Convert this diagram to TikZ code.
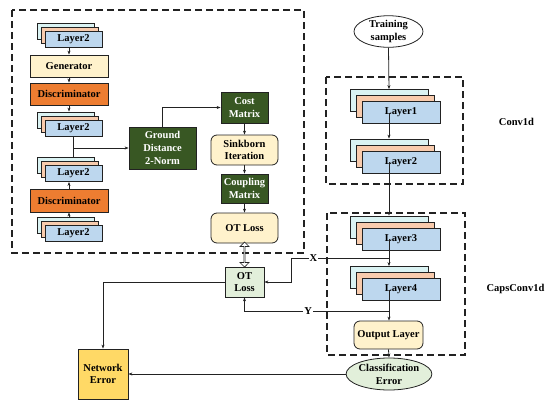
\documentclass[tikz,border=0pt]{standalone}
\usepackage{fontspec}
\setmainfont{Liberation Serif}
\usetikzlibrary{arrows.meta,shapes.geometric,shapes.arrows}
\definecolor{lcyan}{HTML}{DAF3F3}
\definecolor{lsalmon}{HTML}{F8CBAD}
\definecolor{lblue}{HTML}{BDD7EE}
\definecolor{cream}{HTML}{FFF2CC}
\definecolor{orng}{HTML}{ED7D31}
\definecolor{dgreen}{HTML}{385723}
\definecolor{lgreen}{HTML}{E2EFDA}
\definecolor{gold}{HTML}{FFD966}
\definecolor{ink}{HTML}{222222}
\newcommand\mkstack[6]{%
  \node[#5, fill=lcyan] (#1c) at ({#2-2*#4},{#3-2*#4}) {};
  \node[#5, fill=lsalmon] (#1s) at ({#2-#4},{#3-#4}) {};
  \node[#5, fill=lblue] (#1b) at (#2,#3) {#6};}
\begin{document}
\begin{tikzpicture}[x=1pt,y=-1pt,
  font=\fontsize{10.5}{12.8}\selectfont\bfseries,
  box/.style={draw=ink, line width=0.8pt, inner sep=1pt, align=center},
  lyrS/.style={box, minimum width=57pt, minimum height=16pt},
  lyrL/.style={box, minimum width=78pt, minimum height=22pt},
  wide/.style={box, minimum width=78pt, minimum height=22pt},
  green/.style={box, fill=dgreen, text=white},
  rbox/.style={box, rounded corners=6pt, fill=cream},
  ell/.style={ellipse, draw=ink, line width=0.8pt, inner sep=0pt, align=center},
  dbox/.style={draw=ink, line width=1.1pt, dash pattern=on 7pt off 4pt},
  arr/.style={draw=ink, line width=0.8pt, -{Stealth[length=4pt,width=3pt]}},
  ln/.style={draw=ink, line width=0.8pt},
  lbl/.style={fill=white, inner sep=1pt},
  darr/.style={double arrow, draw=ink, fill=white, line width=0.7pt, inner sep=0pt,
    minimum width=9pt, double arrow head extend=2.2pt, double arrow head indent=0pt,
    minimum height=25pt, shape border rotate=90}]
\useasboundingbox (0,0) rectangle (550,405);

% dashed groups
\draw[dbox] (12,10) rectangle (304,253);
\draw[dbox] (326,77) rectangle (463,184);
\draw[dbox] (327,213) rectangle (465,355);

% left column
\mkstack{A}{73.5}{39.5}{4}{lyrS}{Layer2}
\node[wide, fill=cream] (gen) at (69,66) {Generator};
\node[wide, fill=orng] (dis1) at (69,94) {Discriminator};
\mkstack{B}{73.5}{128}{4}{lyrS}{Layer2}
\mkstack{C}{73.5}{173.5}{4}{lyrS}{Layer2}
\node[wide, fill=orng, minimum height=23pt] (dis2) at (69,200.5) {Discriminator};
\mkstack{D}{73.5}{233.5}{4}{lyrS}{Layer2}

% OT chain
\node[green, minimum width=67pt, minimum height=42pt] (gd) at (162.5,148) {Ground\\Distance\\2-Norm};
\node[green, minimum width=47pt, minimum height=31pt] (cost) at (244.5,107.5) {Cost\\Matrix};
\node[rbox, minimum width=67pt, minimum height=30pt] (sink) at (244.5,150) {Sinkborn\\Iteration};
\node[green, minimum width=47pt, minimum height=29pt] (coup) at (244.5,188.5) {Coupling\\Matrix};
\node[rbox, minimum width=67pt, minimum height=30pt] (otu) at (244.5,228) {OT Loss};
\node[box, fill=lgreen, minimum width=39pt, minimum height=30pt] (otl) at (244.5,282) {OT\\Loss};
\node[darr] (dar) at (244.5,254.5) {};

% right column
\node[ell, minimum width=69pt, minimum height=31pt] (ts) at (388.5,31.5) {Training\\samples};
\mkstack{E}{401}{112.5}{6}{lyrL}{Layer1}
\mkstack{F}{401}{162}{6}{lyrL}{Layer2}
\mkstack{G}{401}{239}{6}{lyrL}{Layer3}
\mkstack{H}{401}{289.5}{6}{lyrL}{Layer4}
\node[rbox, minimum width=69pt, minimum height=28pt] (outl) at (388.5,335) {Output Layer};
\node[ell, fill=lgreen, minimum width=78pt, minimum height=32pt] (cls) at (389,374) {Classification\\Error};
\node[box, fill=gold, minimum width=50pt, minimum height=50pt] (ne) at (103,374) {Network\\Error};

\node (lc1) at (516.5,122) {Conv1d};
\node (lc2) at (515.5,289) {CapsConv1d};

% left connectors
\draw[arr] (Ab.south -| gen.north) -- (gen.north);
\draw[arr] (gen.south) -- (dis1.north);
\draw[arr] (dis1.south) -- (dis1.south |- Bc.north);
\draw[ln] (Bb.south) -- (Bb.south |- Cc.north);
\draw[arr] (Bb.south |- gd.west) -- (gd.west);
\draw[arr] (dis2.north) -- (dis2.north |- Cb.south);
\draw[arr] (dis2.south |- Dc.north) -- (dis2.south);

% OT connectors
\draw[arr] (gd.north) |- (cost.west);
\draw[arr] (cost.south) -- (sink.north);
\draw[arr] (sink.south) -- (coup.north);
\draw[arr] (coup.south) -- (otu.north);

% right chain
\draw[arr] (ts.south) -- (Ec.north);
\draw[arr] (Eb.center -| Ec.center) -- (Fc.north);
\draw[arr] (Fb.center -| Fc.center) -- (Gc.north);
\draw[arr] (Gb.center -| Gc.center) -- (Hc.north);
\draw[arr] (Hb.center -| Hc.center) -- (Hc.center |- outl.north);
\draw[arr] (outl.south) -- (cls.north);

% X and Y
\coordinate (xs) at (389,258);
\coordinate (xb) at (291,258);
\coordinate (ys) at (389,311);
\draw[arr] (xs) -- node[lbl, pos=0.77] {X} (xb) |- (otl.east);
\draw[arr] (ys) -| node[lbl, pos=0.28] {Y} (otl.south);

% errors
\draw[arr] (otl.west) -| (ne.north);
\draw[arr] (cls.west) -- (ne.east);
\end{tikzpicture}
\end{document}
